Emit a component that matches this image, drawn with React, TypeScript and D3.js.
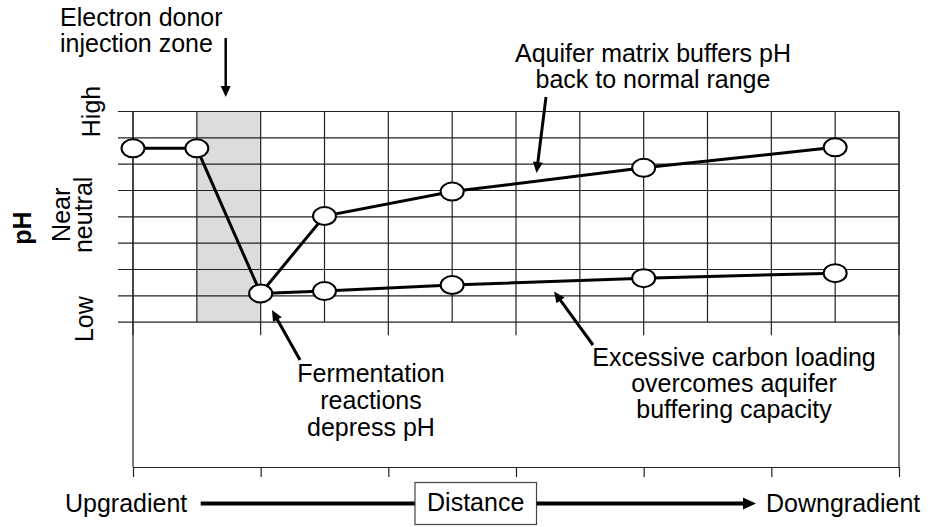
import React, { useEffect, useRef } from 'react';
import * as d3 from 'd3';

// ---- data (grid units: distance columns, pH grid rows) ----
const bufferedDistance = [0, 1, 2, 3, 5, 8, 11];
const bufferedPH = [6.6, 6.6, 1.09, 4.03, 4.96, 5.86, 6.64];
const overloadDistance = [2, 3, 5, 8, 11];
const overloadPH = [1.09, 1.18, 1.41, 1.67, 1.86];
const xGridValues = d3.range(0, 13);
const yGridValues = d3.range(0, 9);
const xTickValues = [0, 2, 4, 6, 8, 10, 12];
const injectionZone = [1, 2];
const levelLabels = ['High', 'Near|neutral', 'Low'];
const levelValues = [8, 4, 0];

const W = 930;
const H = 527;
const FONT = "'Liberation Sans', Arial, Helvetica, sans-serif";
const FS = 25;

export default function App() {
  const axisRef = useRef<SVGGElement | null>(null);

  const x = d3.scaleLinear().domain([0, 12]).range([133, 899]);
  const y = d3.scaleLinear().domain([-5.5, 8]).range([467, 111.5]);

  const line = d3
    .line<[number, number]>()
    .x((d) => x(d[0]))
    .y((d) => y(d[1]));

  const buffered: [number, number][] = bufferedDistance.map((d, i) => [d, bufferedPH[i]]);
  const overload: [number, number][] = overloadDistance.map((d, i) => [d, overloadPH[i]]);

  useEffect(() => {
    if (!axisRef.current) return;
    const g = d3.select(axisRef.current);
    g.selectAll('*').remove();
    g.call(
      d3
        .axisBottom(x)
        .tickValues(xTickValues)
        .tickSize(10)
        .tickSizeOuter(0)
        .tickFormat(() => '')
    );
    g.select('.domain').attr('stroke', '#222').attr('stroke-width', 1.2);
    g.selectAll('.tick line').attr('stroke', '#222').attr('stroke-width', 1.2);
  }, []);

  const arrowHead = (x1: number, y1: number, x2: number, y2: number, len = 11, half = 5) => {
    const a = Math.atan2(y2 - y1, x2 - x1);
    const bx = x2 - len * Math.cos(a);
    const by = y2 - len * Math.sin(a);
    const px = -Math.sin(a) * half;
    const py = Math.cos(a) * half;
    return `${x2},${y2} ${bx + px},${by + py} ${bx - px},${by - py}`;
  };

  const Arrow = ({ x1, y1, x2, y2, w = 3 }: { x1: number; y1: number; x2: number; y2: number; w?: number }) => {
    const a = Math.atan2(y2 - y1, x2 - x1);
    const ex = x2 - 8 * Math.cos(a);
    const ey = y2 - 8 * Math.sin(a);
    return (
      <g>
        <line x1={x1} y1={y1} x2={ex} y2={ey} stroke="#000" strokeWidth={w} />
        <polygon points={arrowHead(x1, y1, x2, y2)} fill="#000" />
      </g>
    );
  };

  const gridTop = y(8);
  const gridBottom = y(0);

  return (
    <svg
      width={W}
      height={H}
      style={{ position: 'absolute', left: 0, top: 0, display: 'block', background: '#fff' }}
      fontFamily={FONT}
    >
      <rect x={0} y={0} width={W} height={H} fill="#fff" />
      {/* injection zone shading */}
      <rect
        x={x(injectionZone[0])}
        y={gridTop}
        width={x(injectionZone[1]) - x(injectionZone[0])}
        height={gridBottom - gridTop}
        fill="#dcdcdc"
      />
      {/* horizontal grid */}
      {yGridValues.map((v) => (
        <line key={'h' + v} x1={118} x2={x(12)} y1={y(v)} y2={y(v)} stroke="#222" strokeWidth={1.2} />
      ))}
      {/* vertical grid */}
      {xGridValues.map((v) => {
        const ext = xTickValues.includes(v) ? 13 : 0;
        return (
          <line key={'v' + v} x1={x(v)} x2={x(v)} y1={gridTop} y2={gridBottom + ext} stroke="#222" strokeWidth={1.2} />
        );
      })}
      {/* frame sides */}
      <line x1={x(0)} x2={x(0)} y1={gridTop} y2={y(-5.5)} stroke="#222" strokeWidth={1.2} />
      <line x1={x(12)} x2={x(12)} y1={gridTop} y2={y(-5.5)} stroke="#222" strokeWidth={1.2} />
      <g ref={axisRef} transform={`translate(0,${y(-5.5)})`} />

      {/* series lines */}
      <path d={line(buffered) || ''} fill="none" stroke="#000" strokeWidth={3} />
      <path d={line(overload) || ''} fill="none" stroke="#000" strokeWidth={3} />
      {[...buffered, ...overload.slice(1)].map((d, i) => (
        <ellipse key={'p' + i} cx={x(d[0])} cy={y(d[1])} rx={11.5} ry={9} fill="#fff" stroke="#000" strokeWidth={2} />
      ))}

      {/* y axis labels */}
      <text transform="translate(31,228) rotate(-90)" textAnchor="middle" fontSize={FS} fontWeight="bold">
        pH
      </text>
      {levelLabels.map((lab, i) => {
        const parts = lab.split('|');
        const baseX = parts.length > 1 ? [70, 92] : [i === 0 ? 100 : 93];
        return parts.map((p, j) => (
          <text
            key={lab + j}
            transform={`translate(${baseX[j]},${y(levelValues[i]) + (i === 1 ? -2 : i === 2 ? -3 : 0)}) rotate(-90)`}
            textAnchor="middle"
            fontSize={FS}
          >
            {p}
          </text>
        ));
      })}

      {/* annotations */}
      <text x={60} y={26} fontSize={FS}>Electron donor</text>
      <text x={60} y={52} fontSize={FS}>injection zone</text>
      <Arrow x1={225.7} y1={38} x2={225.7} y2={97} w={2.5} />

      <text x={653} y={61.7} fontSize={FS} textAnchor="middle">Aquifer matrix buffers pH</text>
      <text x={653} y={88.3} fontSize={FS} textAnchor="middle">back to normal range</text>
      <Arrow x1={546} y1={97} x2={536.5} y2={173} />

      <text x={371} y={381.7} fontSize={FS} textAnchor="middle">Fermentation</text>
      <text x={371} y={409} fontSize={FS} textAnchor="middle">reactions</text>
      <text x={371} y={435.7} fontSize={FS} textAnchor="middle">depress pH</text>
      <Arrow x1={300} y1={360} x2={272} y2={310} />

      <text x={734} y={366} fontSize={FS} textAnchor="middle">Excessive carbon loading</text>
      <text x={734} y={391.7} fontSize={FS} textAnchor="middle">overcomes aquifer</text>
      <text x={734} y={418.3} fontSize={FS} textAnchor="middle">buffering capacity</text>
      <Arrow x1={593} y1={345} x2={554} y2={291.5} />

      {/* distance axis title */}
      <text x={65} y={511.5} fontSize={FS}>Upgradient</text>
      <line x1={200.7} x2={415} y1={503.5} y2={503.5} stroke="#000" strokeWidth={4} />
      <rect x={415} y={482.5} width={121.5} height={42} fill="#fff" stroke="#444" strokeWidth={1.2} />
      <text x={475.7} y={511} fontSize={FS} textAnchor="middle">Distance</text>
      <line x1={536.5} x2={746} y1={503.5} y2={503.5} stroke="#000" strokeWidth={4} />
      <polygon points={arrowHead(536.5, 503.5, 756, 503.5, 13, 6)} fill="#000" />
      <text x={766} y={512} fontSize={FS}>Downgradient</text>
    </svg>
  );
}
